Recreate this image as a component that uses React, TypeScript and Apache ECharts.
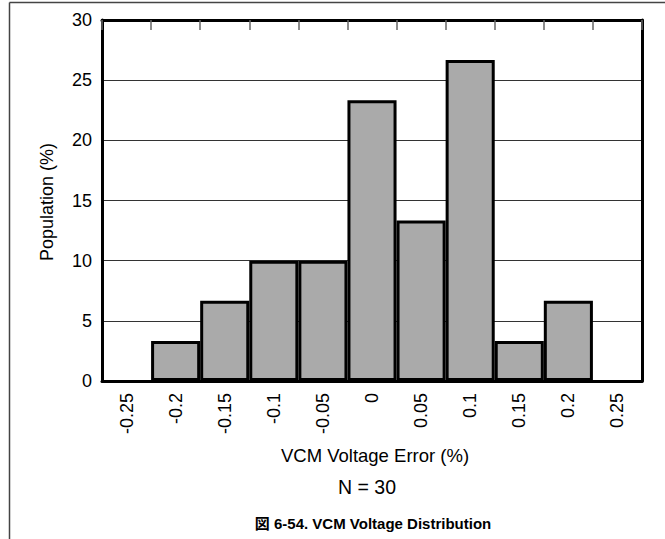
import React, { useEffect, useRef } from "react";
import * as echarts from "echarts";

const categories = ["-0.25", "-0.2", "-0.15", "-0.1", "-0.05", "0", "0.05", "0.1", "0.15", "0.2", "0.25"];
const population = [null, 3.33, 6.67, 10, 10, 23.33, 13.33, 26.67, 3.33, 6.67, null];
const xTitle = "VCM Voltage Error (%)";
const yTitle = "Population (%)";
const note = "N = 30";
const caption = "図 6-54. VCM Voltage Distribution";

const FONT = "'Liberation Sans', Arial, 'Noto Sans CJK JP', sans-serif";

export default function App() {
  const ref = useRef<HTMLDivElement>(null);
  useEffect(() => {
    if (!ref.current) return;
    const chart = echarts.init(ref.current, null, { renderer: "svg" });
    chart.setOption({
      animation: false,
      backgroundColor: "#ffffff",
      textStyle: { fontFamily: FONT },
      grid: { left: 102, right: 23, top: 20, bottom: 158 },
      xAxis: [
        {
          type: "category",
          data: categories,
          position: "bottom",
          axisLine: { show: true, onZero: false, lineStyle: { color: "#000", width: 3 } },
          axisTick: { show: false },
          axisLabel: { rotate: 90, fontSize: 18, color: "#000", margin: 12, fontFamily: FONT },
        },
        {
          type: "category",
          data: categories,
          position: "top",
          axisLine: { show: true, onZero: false, lineStyle: { color: "#000", width: 3 } },
          axisTick: { show: true, inside: true, length: 10, lineStyle: { color: "#666", width: 1.5 } },
          axisLabel: { show: false },
        },
      ],
      yAxis: [
        {
          type: "value",
          min: 0,
          max: 30,
          interval: 5,
          position: "left",
          axisLine: { show: true, onZero: false, lineStyle: { color: "#000", width: 3 } },
          axisTick: { show: false },
          axisLabel: { fontSize: 18, color: "#000", margin: 10, fontFamily: FONT },
          splitLine: { show: true, lineStyle: { color: "#333", width: 1 } },
        },
        {
          type: "value",
          min: 0,
          max: 30,
          interval: 5,
          position: "right",
          axisLine: { show: true, onZero: false, lineStyle: { color: "#000", width: 3 } },
          axisTick: { show: false },
          axisLabel: { show: false },
          splitLine: { show: false },
        },
      ],
      series: [
        {
          type: "bar",
          data: population,
          xAxisIndex: 0,
          yAxisIndex: 0,
          barCategoryGap: "0%",
          itemStyle: { color: "#aaaaaa", borderColor: "#000", borderWidth: 3 },
        },
      ],
      graphic: [
        { type: "line", shape: { x1: 9.5, y1: 2.5, x2: 665, y2: 2.5 }, style: { stroke: "#444", lineWidth: 1.5 } },
        { type: "line", shape: { x1: 9.5, y1: 2.5, x2: 9.5, y2: 539 }, style: { stroke: "#444", lineWidth: 1.5 } },
        {
          type: "text",
          x: 47,
          y: 202,
          rotation: Math.PI / 2,
          style: { text: yTitle, fill: "#000", font: `18px ${FONT}`, align: "center", verticalAlign: "middle" },
        },
        {
          type: "text",
          x: 375,
          y: 455,
          style: { text: xTitle, fill: "#000", font: `18.5px ${FONT}`, align: "center", verticalAlign: "middle" },
        },
        {
          type: "text",
          x: 367,
          y: 487,
          style: { text: note, fill: "#000", font: `19.5px ${FONT}`, align: "center", verticalAlign: "middle" },
        },
        {
          type: "text",
          x: 373,
          y: 523,
          style: { text: caption, fill: "#000", font: `bold 15px ${FONT}`, align: "center", verticalAlign: "middle" },
        },
      ],
    });
    return () => chart.dispose();
  }, []);
  return <div ref={ref} style={{ width: 665, height: 539, position: "absolute", left: 0, top: 0 }} />;
}
